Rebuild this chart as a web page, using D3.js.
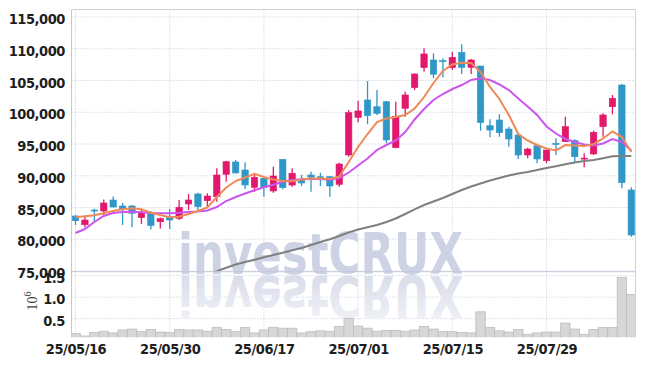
<!DOCTYPE html>
<html><head><meta charset="utf-8">
<script src="https://cdn.jsdelivr.net/npm/d3@7"></script>
<style>
html,body{margin:0;padding:0;background:#fff;}
svg{display:block;}
.ax text{font-family:"Liberation Sans Narrow","DejaVu Sans Condensed","Liberation Sans",sans-serif;font-weight:bold;font-size:14.5px;letter-spacing:-0.45px;fill:#1e1e1e;}
</style></head><body>
<svg id="c" width="645" height="366"></svg>
<script>
const dates = ["25/05/16","25/05/19","25/05/20","25/05/21","25/05/22","25/05/23","25/05/26","25/05/27","25/05/28","25/05/29",
"25/05/30","25/06/02","25/06/04","25/06/05","25/06/09","25/06/10","25/06/11","25/06/12","25/06/13","25/06/16",
"25/06/17","25/06/18","25/06/19","25/06/20","25/06/23","25/06/24","25/06/25","25/06/26","25/06/27","25/06/30",
"25/07/01","25/07/02","25/07/03","25/07/04","25/07/07","25/07/08","25/07/09","25/07/10","25/07/11","25/07/14",
"25/07/15","25/07/16","25/07/17","25/07/18","25/07/21","25/07/22","25/07/23","25/07/24","25/07/25","25/07/28",
"25/07/29","25/07/30","25/07/31","25/08/01","25/08/04","25/08/05","25/08/06","25/08/07","25/08/08","25/08/11"];
const openP  = [83660,82290,84600,84450,86180,85240,85240,83400,84210,82760,83430,83300,85550,87130,86070,86700,90230,92170,90910,88180,
89600,87600,92590,88540,89410,90120,89850,89850,88650,93270,99200,101930,100870,101660,94420,100620,103870,107020,108230,108120,
107020,109440,107080,107280,97880,98780,97360,96420,93270,94730,92370,95080,95360,95520,92720,93430,97730,100870,104290,87760];
const highP  = [83820,83550,84800,86260,86730,85710,85400,84610,84450,83430,84760,86180,87130,87330,87240,91170,92370,92480,92120,90280,
89650,91430,92640,91170,90120,90640,90480,89960,92060,100350,101820,104920,103500,101770,101660,103240,106130,110070,109280,108500,
109540,110700,108390,107280,98890,99680,97730,96570,94420,94840,94160,95900,99300,95740,93530,97100,99840,102720,104450,88180];
const lowP   = [82250,81880,82600,83820,85000,82250,81880,82400,81540,81700,81610,83030,84610,84610,85130,85910,89060,90360,87910,87490,
86700,87330,87870,88280,88390,87490,88390,86700,88280,93000,98420,98100,99570,95110,94320,99300,103500,106390,105350,105500,
106650,106020,106020,97100,96050,96150,94580,92640,92750,91960,91960,93270,95360,92120,91330,93270,96150,99680,88020,80400];
const closeP = [82920,83030,84450,85710,85080,84690,84090,84180,82170,83240,83030,85030,86180,85130,86810,90120,92210,90440,88540,89760,
88180,89960,88120,90390,88860,89760,89570,88390,91850,99930,100200,99460,99830,95630,99300,102720,106020,109180,105980,108020,
108650,107080,108230,98360,97200,96780,95790,93270,94210,92640,94050,95020,97730,93000,92780,96840,99570,102200,88910,80670];
const volume = [0.16,0.10,0.18,0.21,0.17,0.24,0.26,0.20,0.25,0.19,0.18,0.25,0.24,0.24,0.21,0.30,0.25,0.20,0.30,0.17,
0.24,0.30,0.28,0.28,0.17,0.20,0.22,0.21,0.32,0.51,0.33,0.28,0.21,0.23,0.23,0.21,0.24,0.32,0.26,0.20,
0.20,0.18,0.17,0.66,0.30,0.22,0.19,0.25,0.14,0.17,0.19,0.19,0.40,0.26,0.14,0.25,0.30,0.30,1.46,1.06];
const ma5 = [83460,83610,83770,84090,84450,84720,84870,84720,84180,83820,83460,83550,83980,84450,85030,86650,88150,89170,89720,90320,
89800,89410,89170,89130,89410,89570,89570,89490,89880,92170,94530,96570,98460,99020,99250,99570,100590,102400,104610,106500,
107520,107800,107760,106340,103980,102090,99570,96570,95550,94840,94290,93980,94840,94760,94690,95000,95870,96970,96100,93740];
const ma10 = [80980,81610,82720,83660,84130,84290,84340,84250,84130,84080,84080,84180,84290,84370,84530,85080,86020,86650,87200,87710,
88180,88590,89060,89330,89440,89490,89490,89380,89650,90510,91610,92720,94060,94840,95550,96890,98860,100510,101930,102870,
103660,104290,105080,105350,105080,104370,103500,102170,100900,99570,97760,96650,95790,95310,94920,94760,95080,95790,95310,93980];
const ma60 = [null,null,null,null,null,null,null,null,null,null,null,null,null,null,74530,74970,75520,76020,76420,76780,
77160,77520,77880,78260,78620,79090,79570,79990,80510,81090,81540,81880,82240,82720,83270,83980,84690,85390,85950,86500,
87130,87760,88310,88780,89250,89650,90040,90350,90590,90910,91220,91490,91800,92090,92320,92480,92750,93060,93110,93110];
const priceTicks = [75000,80000,85000,90000,95000,100000,105000,110000,115000];
const volTicks = [0.5,1.0,1.5];
const dateTicks = ["25/05/16","25/05/30","25/06/17","25/07/01","25/07/15","25/07/29"];

const svg = d3.select("#c");
const L=71.5, R=635.5, PT=9.5, PB=271.7, VB=337.3;
const x = d3.scalePoint().domain(dates).range([75.5,631.3]);
const bw = x.step();
const y = d3.scaleLinear().domain([75000,115000]).range([271,17]);
const yv = d3.scaleLinear().domain([0,1.6]).range([340.3,271.2]);
const UP="#e2186c", DN="#3097c9", GRID="#c3c8dc";

const defs = svg.append("defs");
defs.append("clipPath").attr("id","cp").append("rect").attr("x",L).attr("y",PT).attr("width",R-L).attr("height",PB-PT);
defs.append("clipPath").attr("id","cv").append("rect").attr("x",L).attr("y",PB).attr("width",R-L).attr("height",VB-PB);
const lg = defs.append("linearGradient").attr("id","refl").attr("gradientUnits","userSpaceOnUse")
  .attr("x1",0).attr("y1",276).attr("x2",0).attr("y2",230);
lg.append("stop").attr("offset",0).attr("stop-color","#d8dce9");
lg.append("stop").attr("offset",1).attr("stop-color","#eff1f6");

// grid
const g = svg.append("g");
g.selectAll(".hp").data(priceTicks).join("line").attr("x1",L).attr("x2",R).attr("y1",d=>y(d)).attr("y2",d=>y(d))
  .attr("stroke",GRID).attr("stroke-dasharray","1,2");
g.selectAll(".hv").data(volTicks).join("line").attr("x1",L).attr("x2",R).attr("y1",d=>yv(d)).attr("y2",d=>yv(d))
  .attr("stroke",GRID).attr("stroke-dasharray","1,2");
g.selectAll(".vx").data(dateTicks).join("line").attr("x1",d=>x(d)).attr("x2",d=>x(d)).attr("y1",PT).attr("y2",VB)
  .attr("stroke",GRID).attr("stroke-dasharray","1,2");

// watermark
const wm = svg.append("g").attr("font-family","'DejaVu Sans',sans-serif").attr("font-weight","bold").attr("font-size",57);
wm.append("text").attr("x",178).attr("y",274).attr("textLength",285).attr("lengthAdjust","spacingAndGlyphs")
  .attr("fill","#cdd3e5").text("investCRUX");
wm.append("g").attr("transform","translate(0,550) scale(1,-1)").append("text").attr("x",178).attr("y",274)
  .attr("textLength",285).attr("lengthAdjust","spacingAndGlyphs").attr("fill","url(#refl)").text("investCRUX");

// volume
svg.append("g").attr("clip-path","url(#cv)").selectAll("rect").data(volume).join("rect")
  .attr("x",(v,i)=>x(dates[i])-bw/2).attr("width",bw).attr("y",v=>yv(v)).attr("height",v=>yv(0)-yv(v))
  .attr("fill","#d7d7d7").attr("stroke","#bdbdbd").attr("stroke-width",0.8);

// candles
const cg = svg.append("g").attr("clip-path","url(#cp)");
const idx = d3.range(dates.length);
const col = i => closeP[i] >= openP[i] ? UP : DN;
cg.selectAll(".w").data(idx).join("line").attr("x1",i=>x(dates[i])).attr("x2",i=>x(dates[i]))
  .attr("y1",i=>y(highP[i])).attr("y2",i=>y(lowP[i])).attr("stroke",col).attr("stroke-width",1.3);
cg.selectAll(".b").data(idx).join("rect").attr("x",i=>x(dates[i])-3.2).attr("width",6.4)
  .attr("y",i=>y(Math.max(openP[i],closeP[i])))
  .attr("height",i=>Math.max(1,Math.abs(y(openP[i])-y(closeP[i]))))
  .attr("fill",col).attr("stroke",col).attr("stroke-width",0.6);

// moving averages
const line = d3.line().defined(v=>v!=null).x((v,i)=>x(dates[i])).y(v=>y(v));
cg.append("path").datum(ma60).attr("d",line).attr("fill","none").attr("stroke","#7f7f7f").attr("stroke-width",2);
cg.append("path").datum(ma10).attr("d",line).attr("fill","none").attr("stroke","#cc55ee").attr("stroke-width",2);
cg.append("path").datum(ma5).attr("d",line).attr("fill","none").attr("stroke","#ef8a58").attr("stroke-width",2);

// borders
svg.append("line").attr("x1",L).attr("x2",R).attr("y1",PT).attr("y2",PT).attr("stroke","#d0d0d0");
svg.append("line").attr("x1",L).attr("x2",L).attr("y1",PT).attr("y2",VB).attr("stroke","#c8c8c8");
svg.append("line").attr("x1",R).attr("x2",R).attr("y1",PT).attr("y2",VB).attr("stroke","#d0d0d0");
svg.append("line").attr("x1",L).attr("x2",R).attr("y1",PB).attr("y2",PB).attr("stroke","#c3c8d8");

// axes
const ay = svg.append("g").attr("class","ax").attr("transform",`translate(${L},0)`)
  .call(d3.axisLeft(y).tickValues(priceTicks).tickFormat(d3.format(",")).tickSize(0).tickPadding(6.5));
ay.select(".domain").remove(); ay.selectAll("text").attr("dy","0.45em");
const av = svg.append("g").attr("class","ax").attr("transform",`translate(${L},0)`)
  .call(d3.axisLeft(yv).tickValues(volTicks).tickFormat(d3.format(".1f")).tickSize(0).tickPadding(6.5));
av.select(".domain").remove(); av.selectAll("text").attr("dy","0.45em");
const ax = svg.append("g").attr("class","ax").attr("transform",`translate(0,${VB})`)
  .call(d3.axisBottom(x).tickValues(dateTicks).tickSize(0).tickPadding(6.3));
ax.select(".domain").remove();

// 10^6 label
const ul = svg.append("text").attr("transform","translate(37,301) rotate(-90)").attr("text-anchor","middle")
  .attr("font-family","'Liberation Serif','DejaVu Serif',serif").attr("font-size",14).attr("fill","#444");
ul.append("tspan").text("10");
ul.append("tspan").attr("font-size",10).attr("dy",-6).text("6");
</script>
</body></html>
